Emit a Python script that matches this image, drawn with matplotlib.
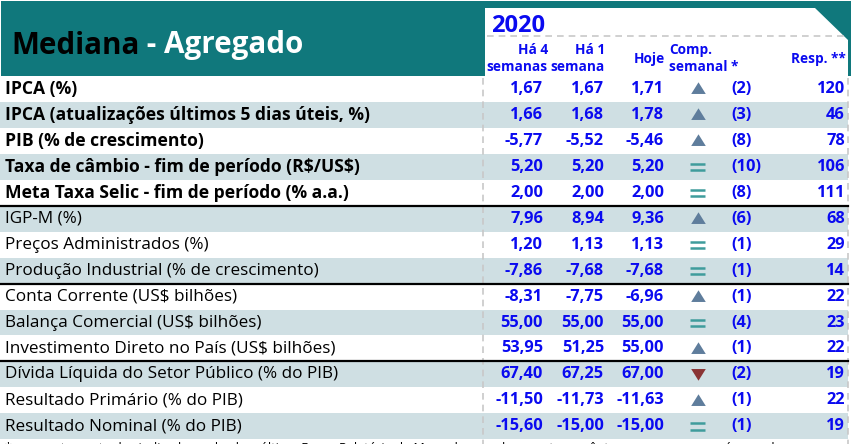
import matplotlib
matplotlib.use("Agg")
import matplotlib.pyplot as plt
from matplotlib.patches import Rectangle, Polygon

labels = ["IPCA (%)",
          "IPCA (atualizações últimos 5 dias úteis, %)",
          "PIB (% de crescimento)",
          "Taxa de câmbio - fim de período (R$/US$)",
          "Meta Taxa Selic - fim de período (% a.a.)",
          "IGP-M (%)",
          "Preços Administrados (%)",
          "Produção Industrial (% de crescimento)",
          "Conta Corrente (US$ bilhões)",
          "Balança Comercial (US$ bilhões)",
          "Investimento Direto no País (US$ bilhões)",
          "Dívida Líquida do Setor Público (% do PIB)",
          "Resultado Primário (% do PIB)",
          "Resultado Nominal (% do PIB)"]
bold_rows = [True, True, True, True, True] + [False] * 9
ha4 = [1.67, 1.66, -5.77, 5.20, 2.00, 7.96, 1.20, -7.86, -8.31, 55.00, 53.95, 67.40, -11.50, -15.60]
ha1 = [1.67, 1.68, -5.52, 5.20, 2.00, 8.94, 1.13, -7.68, -7.75, 55.00, 51.25, 67.25, -11.73, -15.00]
hoje = [1.71, 1.78, -5.46, 5.20, 2.00, 9.36, 1.13, -7.68, -6.96, 55.00, 55.00, 67.00, -11.63, -15.00]
trend = ["up", "up", "up", "eq", "eq", "up", "eq", "eq", "up", "eq", "up", "down", "up", "eq"]
weeks = [2, 3, 8, 10, 8, 6, 1, 1, 1, 4, 1, 2, 1, 1]
resp = [120, 46, 78, 106, 111, 68, 29, 14, 22, 23, 22, 19, 22, 19]
separators_after = [4, 7, 10]
year = "2020"
col_headers = ["Há 4\nsemanas", "Há 1\nsemana", "Hoje", "Comp.\nsemanal *", "Resp. **"]
footnote = ("* comportamento dos indicadores desde o último Focus-Relatório de Mercado; os valores entre "
            "parênteses expressam o número de semanas em que vem ocorrendo o último comportamento")

TEAL = "#10787c"
SHADE = "#cfdfe3"
BLUE = "#0a0af0"
UPC = "#5f7d9c"
EQC = "#3f9c9c"
DNC = "#8a3434"
FONT = "Open Sans"

UP_MARK = [(-1, -0.75), (1, -0.75), (0, 0.85), (-1, -0.75)]
DN_MARK = [(-1, 0.75), (1, 0.75), (0, -0.85), (-1, 0.75)]

fig = plt.figure(figsize=(8.54, 4.44), dpi=100)
ax = fig.add_axes([0, 0, 1, 1])
ax.set_xlim(0, 854)
ax.set_ylim(444, 0)
ax.axis("off")

# header band
ax.add_patch(Rectangle((1, 1.5), 850, 75, facecolor=TEAL, edgecolor="none"))
ax.add_patch(Polygon([(485, 8), (815, 8), (848, 40), (848, 78), (485, 78)],
                     closed=True, facecolor="white", edgecolor="none"))
ax.plot([487, 846], [36, 36], color="#c8c8c8", lw=1.2, ls=(0, (4, 3)))

t1 = ax.text(11, 53.5, "Mediana", fontsize=21.3, fontweight="bold", color="black",
             family=FONT, va="baseline")
ax.annotate(" - Agregado", xy=(1, 0), xycoords=t1, fontsize=21.3, fontweight="bold",
            color="white", family=FONT, va="bottom", ha="left")

ax.text(491, 32, year, fontsize=17, fontweight="bold", color=BLUE, family=FONT, va="baseline")

hdr_kw = dict(fontsize=9.8, fontweight="bold", color=BLUE, family=FONT, linespacing=1.2)
ax.text(548, 58.5, col_headers[0], ha="right", va="center", multialignment="right", **hdr_kw)
ax.text(605, 58.5, col_headers[1], ha="right", va="center", multialignment="right", **hdr_kw)
ax.text(665, 58.5, col_headers[2], ha="right", va="center", **hdr_kw)
ax.text(669, 58.5, col_headers[3], ha="left", va="center", multialignment="left", **hdr_kw)
ax.text(846, 58.5, col_headers[4], ha="right", va="center", **hdr_kw)

row_top = 76.0
row_h = 25.95
n = len(labels)

def fmt(v):
    return f"{v:.2f}".replace(".", ",")

for i in range(n):
    y0 = row_top + i * row_h
    yc = y0 + row_h / 2
    if i % 2 == 1:
        ax.add_patch(Rectangle((0, y0), 848, row_h, facecolor=SHADE, edgecolor="none"))
    ax.text(5, yc, labels[i], fontsize=12.6 if bold_rows[i] else 12.3,
            fontweight="bold" if bold_rows[i] else "normal", color="black",
            family=FONT, va="center", ha="left", parse_math=False)
    num_kw = dict(fontsize=11.8, fontweight="bold", color=BLUE, family=FONT, va="center")
    ax.text(543, yc, fmt(ha4[i]), ha="right", **num_kw)
    ax.text(604, yc, fmt(ha1[i]), ha="right", **num_kw)
    ax.text(664, yc, fmt(hoje[i]), ha="right", **num_kw)
    ax.text(731, yc, f"({weeks[i]})", ha="left", **num_kw)
    ax.text(845, yc, str(resp[i]), ha="right", **num_kw)
    if trend[i] == "up":
        ax.plot(698, yc - 0.5, marker=UP_MARK, ms=10.5, color=UPC, mec="none")
    elif trend[i] == "down":
        ax.plot(698, yc - 0.5, marker=DN_MARK, ms=10.5, color=DNC, mec="none")
    else:
        ax.plot([690, 705], [yc - 3.0, yc - 3.0], color=EQC, lw=1.8, solid_capstyle="butt")
        ax.plot([690, 705], [yc + 3.5, yc + 3.5], color=EQC, lw=1.8, solid_capstyle="butt")

# vertical dashed guides
table_bottom = row_top + n * row_h
for xv in (483, 848):
    ax.plot([xv, xv], [78, 444], color="#c8c8c8", lw=1.2, ls=(0, (4, 3)), zorder=3)

for k in separators_after:
    ys = row_top + (k + 1) * row_h
    ax.plot([0, 848], [ys, ys], color="black", lw=1.6, zorder=4)

ax.text(5, table_bottom + 3, footnote, fontsize=9, color="black", family=FONT,
        va="top", ha="left", clip_on=True)

fig.savefig("out.png", dpi=100)
